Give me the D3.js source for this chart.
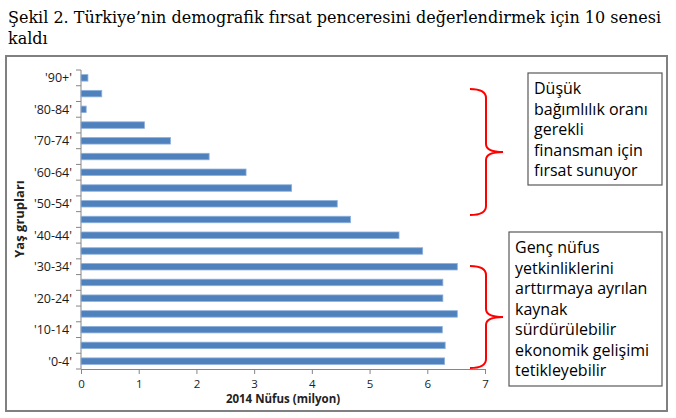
<!DOCTYPE html>
<html>
<head>
<meta charset="utf-8">
<script src="https://cdn.jsdelivr.net/npm/d3@7"></script>
<style>
  body { margin: 0; background: #fff; }
  svg text { font-family: "Open Sans", Lato, sans-serif; }
</style>
</head>
<body>
<div id="chart"></div>
<script>
// Age groups, bottom to top
let ageGroups = ["0-4", "5-9", "10-14", "15-19", "20-24", "25-29", "30-34", "35-39", "40-44",
    "45-49", "50-54", "55-59", "60-64", "65-69", "70-74", "75-79", "80-84", "85-89", "90+"];
// 2014 population, millions
let population = [6.30, 6.31, 6.26, 6.52, 6.27, 6.27, 6.52, 5.92, 5.51,
    4.67, 4.44, 3.65, 2.86, 2.22, 1.55, 1.10, 0.09, 0.36, 0.12];
let xTicks = [0, 1, 2, 3, 4, 5, 6, 7];

let titleLines = ["Şekil 2. Türkiye’nin demografik fırsat penceresini değerlendirmek için 10 senesi", "kaldı"];
let noteTop = ["Düşük", "bağımlılık oranı", "gerekli", "finansman için", "fırsat sunuyor"];
let noteBottom = ["Genç nüfus", "yetkinliklerini", "arttırmaya ayrılan", "kaynak", "sürdürülebilir",
    "ekonomik gelişimi", "tetikleyebilir"];

let data = ageGroups.map((g, i) => ({ group: g, value: population[i] }));

let fullWidth = 676, fullHeight = 418;
let svg = d3.select("#chart").append("svg")
    .attr("width", fullWidth)
    .attr("height", fullHeight);

// Title (two lines, serif)
titleLines.forEach((line, i) => {
    let t = svg.append("text")
        .attr("x", 8)
        .attr("y", 23 + i * 21)
        .style("font-family", "'DejaVu Serif', 'Liberation Serif', serif")
        .style("font-size", "16px")
        .style("fill", "#000")
        .text(line);
    if (i === 0) t.attr("textLength", 653).attr("lengthAdjust", "spacingAndGlyphs");
});

// Outer frame
svg.append("rect")
    .attr("x", 6).attr("y", 56)
    .attr("width", 661).attr("height", 355)
    .attr("fill", "none")
    .attr("stroke", "#808080")
    .attr("stroke-width", 2);

let x = d3.scaleLinear().domain([0, 7]).range([81, 485]);
let y = d3.scaleBand()
    .domain(ageGroups.slice().reverse())
    .range([70, 369]);

let axisColor = "#868686";

// X axis
let xAxis = svg.append("g")
    .attr("transform", "translate(0,369)")
    .call(d3.axisBottom(x).tickValues(xTicks).tickFormat(d3.format("d")).tickSize(5).tickSizeOuter(0));
xAxis.select(".domain").attr("stroke", axisColor);
xAxis.selectAll("line").attr("stroke", axisColor);
xAxis.selectAll("text")
    .attr("dy", "0.95em")
    .style("font-family", "'Open Sans', sans-serif")
    .style("font-size", "11.5px")
    .style("fill", "#222");

// Y axis: ticks at band boundaries, label every other group
let boundaries = d3.range(ageGroups.length + 1).map(i => y.range()[0] + i * y.step());
let yAxis = svg.append("g");
yAxis.append("line")
    .attr("x1", 81).attr("x2", 81)
    .attr("y1", 70).attr("y2", 369)
    .attr("stroke", axisColor);
yAxis.selectAll(".ytick")
    .data(boundaries)
    .enter()
    .append("line")
    .attr("x1", 76).attr("x2", 81)
    .attr("y1", d => d).attr("y2", d => d)
    .attr("stroke", axisColor);
yAxis.selectAll(".ylabel")
    .data(ageGroups.filter((g, i) => i % 2 === 0))
    .enter()
    .append("text")
    .attr("x", 72)
    .attr("y", d => y(d) + y.bandwidth() / 2)
    .attr("dy", "0.35em")
    .attr("text-anchor", "end")
    .style("font-size", "12.5px")
    .style("fill", "#1a1a1a")
    .text(d => `'${d}'`);

// Bars
let barH = 6.5;
svg.selectAll(".bar")
    .data(data)
    .enter()
    .append("rect")
    .attr("class", "bar")
    .attr("x", x(0))
    .attr("y", d => y(d.group) + y.bandwidth() / 2 - barH / 2)
    .attr("width", d => x(d.value) - x(0))
    .attr("height", barH)
    .attr("fill", "#4f81bd")
    .attr("stroke", "#8eb0dc")
    .attr("stroke-width", 0.8);

// Axis titles
svg.append("text")
    .attr("x", 283).attr("y", 403)
    .attr("text-anchor", "middle")
    .style("font-size", "11.5px")
    .style("font-weight", "bold")
    .style("fill", "#222")
    .text("2014 Nüfus (milyon)");

svg.append("text")
    .attr("transform", "translate(24,219) rotate(-90)")
    .attr("text-anchor", "middle")
    .style("font-size", "13px")
    .style("font-weight", "bold")
    .style("fill", "#222")
    .text("Yaş grupları");

// Red curly braces
function brace(top, bottom, xv, xl, xt) {
    let mid = (top + bottom) / 2;
    return `M${xl},${top} Q${xv},${top} ${xv},${top + 9} L${xv},${mid - 8} Q${xv},${mid} ${xt},${mid}` +
        ` Q${xv},${mid} ${xv},${mid + 8} L${xv},${bottom - 9} Q${xv},${bottom} ${xl},${bottom}`;
}
[[89, 215], [266, 368]].forEach(b => {
    svg.append("path")
        .attr("d", brace(b[0], b[1], 486, 470, 503))
        .attr("fill", "none")
        .attr("stroke", "#ff0000")
        .attr("stroke-width", 2);
});

// Note boxes
function noteBox(lines, bx, by, bw, bh, tx, ty) {
    svg.append("rect")
        .attr("x", bx).attr("y", by)
        .attr("width", bw).attr("height", bh)
        .attr("fill", "#fff")
        .attr("stroke", "#595959")
        .attr("stroke-width", 1.2);
    svg.append("g").selectAll("text")
        .data(lines)
        .enter()
        .append("text")
        .attr("x", tx)
        .attr("y", (d, i) => ty + i * 20.5)
        .style("font-size", "16px")
        .style("fill", "#000")
        .text(d => d);
}
noteBox(noteTop, 528, 73, 134, 112, 534, 94);
noteBox(noteBottom, 509, 232, 153, 154, 515, 253);
</script>
</body>
</html>
